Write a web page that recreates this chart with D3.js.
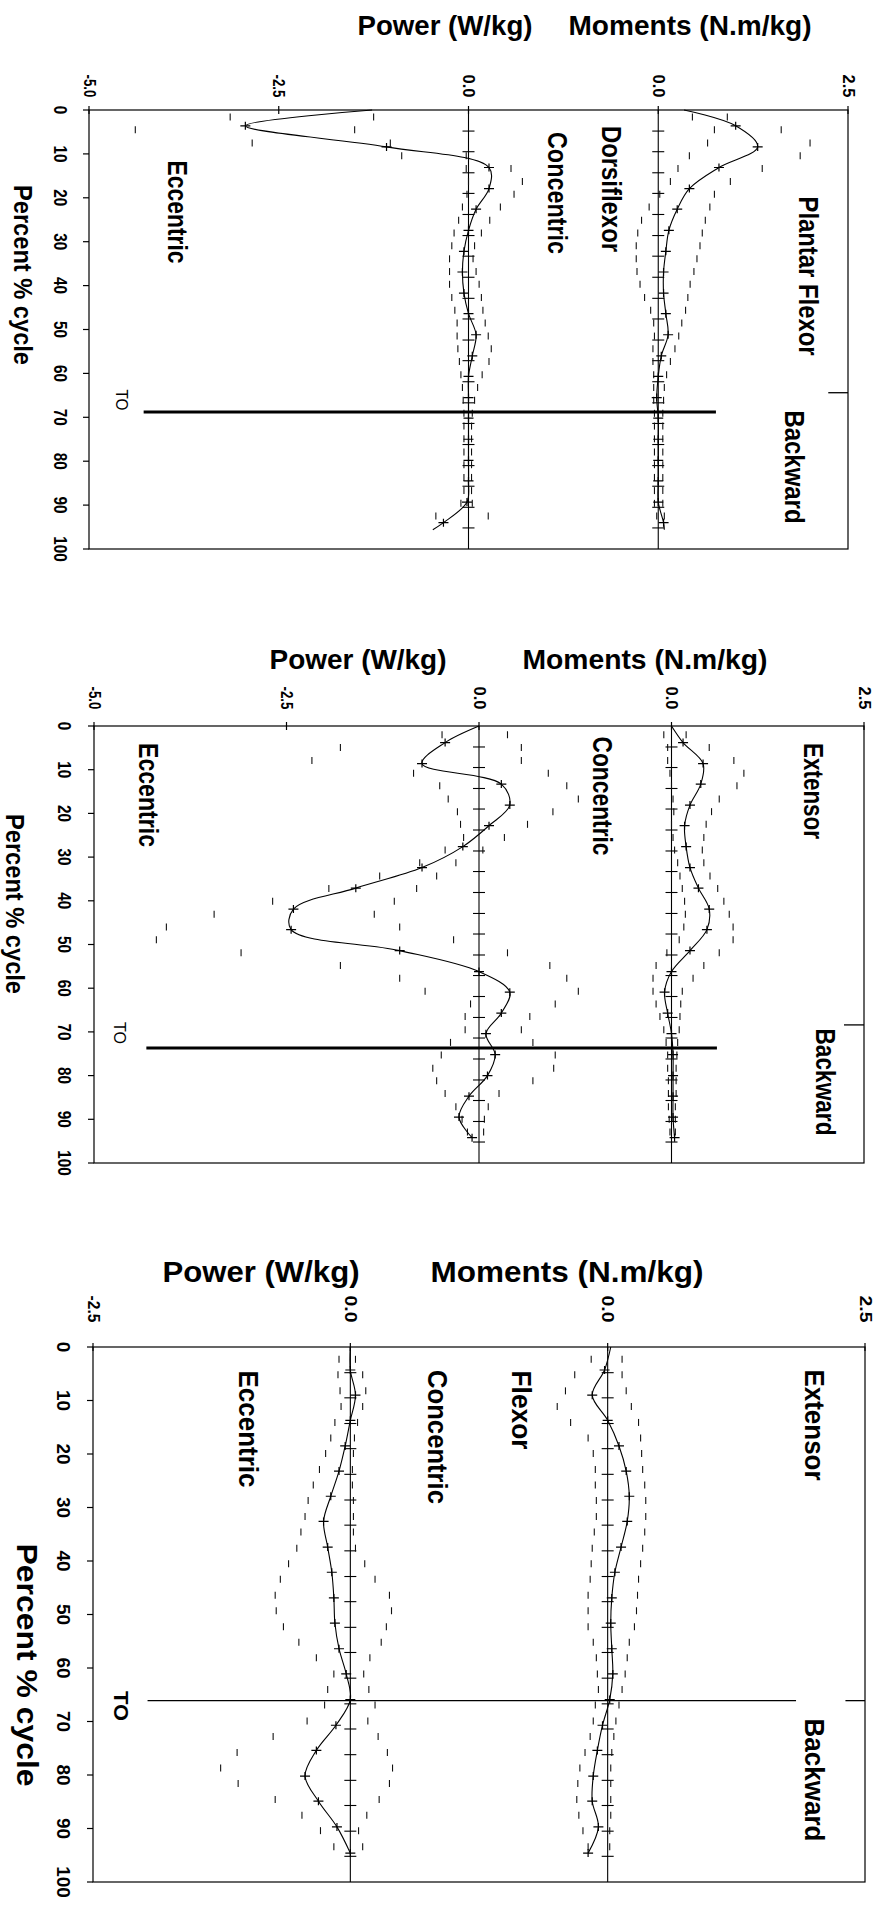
<!DOCTYPE html>
<html>
<head>
<meta charset="utf-8">
<script src="https://cdn.jsdelivr.net/npm/d3@7"></script>
<style>
  html, body { margin: 0; padding: 0; background: #fff; }
  svg { display: block; font-family: "Liberation Sans", Arial, Helvetica, sans-serif; }
</style>
</head>
<body>
<svg id="chart" width="883" height="1906"></svg>
<script>
// ---------------------------------------------------------------
// Joint moments and powers over the backward gait cycle
// (ankle, knee, hip). Mean curves with +/- 1 SD markers.
// ---------------------------------------------------------------

// Percent-of-cycle axis
const pctTicks = [0, 10, 20, 30, 40, 50, 60, 70, 80, 90, 100];
const pctTickLabels = ["0", "10", "20", "30", "40", "50", "60", "70", "80", "90", "100"];
const zeroTickPct = [4.8, 9.5, 14.3, 19.0, 23.8, 28.6, 33.3, 38.1, 42.9, 47.6, 52.4, 57.1, 61.9, 66.7, 71.4, 76.2, 81.0, 85.7, 90.5, 95.2];

// Value axis ticks
const ankleKneePowerTicks = [-5, -2.5, 0];
const ankleKneePowerTickLabels = ["-5.0", "-2.5", "0.0"];
const hipPowerTicks = [-2.5, 0];
const hipPowerTickLabels = ["-2.5", "0.0"];
const momentTicks = [0, 2.5];
const momentTickLabels = ["0.0", "2.5"];

// ---------------- Ankle ----------------
const anklePct = [0, 3.6, 8.4, 13.1, 17.9, 22.6, 27.4, 32.2, 36.9, 41.7, 46.4, 51.2, 56.0, 60.7, 65.5, 70.2, 75.0, 79.8, 84.5, 89.3, 94.0, 95.6];
const ankleMoment = [0.34, 1.02, 1.31, 0.80, 0.41, 0.25, 0.14, 0.10, 0.07, 0.07, 0.10, 0.13, 0.04, 0.00, -0.02, 0.00, 0.00, 0.00, 0.00, 0.00, 0.07, 0.08];
const anklePower = [-1.27, -2.94, -1.08, 0.27, 0.27, 0.10, 0.00, -0.06, -0.08, -0.06, 0.00, 0.10, 0.05, 0.00, 0.00, 0.00, 0.00, 0.00, 0.00, -0.02, -0.33, -0.47];

const ankleSdPct = [1.6, 4.5, 7.5, 10.4, 13.3, 16.3, 19.2, 22.1, 25.1, 28.0, 30.9, 33.9, 36.8, 39.7, 42.7, 45.6, 48.5, 51.5, 54.4, 57.3, 60.3, 63.2, 66.1, 69.1, 72.0, 74.9, 77.9, 80.8, 83.7, 86.7, 89.6, 92.5];
const ankleMomentHi = [0.91, 1.62, 2.00, 1.87, 1.37, 0.95, 0.74, 0.68, 0.62, 0.58, 0.55, 0.51, 0.47, 0.42, 0.39, 0.36, 0.31, 0.27, 0.22, 0.16, 0.11, 0.08, 0.07, 0.06, 0.06, 0.06, 0.06, 0.06, 0.06, 0.06, 0.06, 0.08];
const ankleMomentLo = [0.45, 0.74, 0.65, 0.41, 0.26, 0.16, 0.02, -0.12, -0.22, -0.27, -0.29, -0.29, -0.28, -0.24, -0.18, -0.10, -0.06, -0.05, -0.07, -0.07, -0.06, -0.06, -0.06, -0.05, -0.05, -0.05, -0.05, -0.05, -0.05, -0.05, -0.05, -0.02];
const anklePowerHi = [-1.25, -1.50, -1.03, -0.03, 0.56, 0.71, 0.60, 0.42, 0.28, 0.17, 0.08, 0.06, 0.10, 0.14, 0.17, 0.19, 0.22, 0.26, 0.30, 0.27, 0.18, 0.12, 0.08, 0.05, 0.04, 0.04, 0.04, 0.04, 0.04, 0.04, 0.05, 0.26];
const anklePowerLo = [-3.14, -4.39, -2.85, -0.88, -0.03, 0.00, -0.02, -0.08, -0.13, -0.19, -0.22, -0.25, -0.25, -0.25, -0.22, -0.18, -0.15, -0.15, -0.14, -0.12, -0.10, -0.08, -0.07, -0.06, -0.06, -0.06, -0.06, -0.06, -0.06, -0.06, -0.10, -0.43];

// ---------------- Knee ----------------
const kneePct = [0, 3.8, 8.6, 13.3, 18.1, 22.8, 27.6, 32.4, 37.1, 41.9, 46.6, 51.4, 56.2, 60.9, 65.7, 70.4, 75.2, 80.0, 84.7, 89.5, 94.2];
const kneeMoment = [0.00, 0.15, 0.41, 0.38, 0.24, 0.17, 0.19, 0.24, 0.35, 0.49, 0.46, 0.24, 0.00, -0.09, -0.05, 0.00, 0.02, 0.02, 0.02, 0.02, 0.04];
const kneePower = [0.00, -0.44, -0.74, 0.29, 0.40, 0.13, -0.21, -0.74, -1.60, -2.41, -2.44, -1.03, 0.00, 0.40, 0.29, 0.09, 0.21, 0.11, -0.13, -0.26, -0.09];

const kneeSdPct = [2.0, 4.9, 7.9, 10.8, 13.7, 16.7, 19.6, 22.5, 25.5, 28.4, 31.3, 34.3, 37.2, 40.1, 43.1, 46.0, 48.9, 51.9, 54.8, 57.7, 60.7, 63.6, 66.5, 69.5, 72.4, 75.3, 78.3, 81.2, 84.1, 87.1, 90.0, 92.9];
const kneeMomentHi = [0.19, 0.49, 0.81, 0.94, 0.85, 0.62, 0.52, 0.45, 0.42, 0.40, 0.42, 0.50, 0.60, 0.68, 0.75, 0.80, 0.80, 0.62, 0.42, 0.28, 0.14, 0.12, 0.11, 0.10, 0.08, 0.07, 0.06, 0.06, 0.06, 0.05, 0.05, 0.05];
const kneeMomentLo = [-0.10, -0.05, -0.05, -0.02, 0.00, 0.02, 0.03, 0.00, 0.02, 0.04, 0.08, 0.11, 0.14, 0.17, 0.18, 0.16, 0.10, -0.06, -0.20, -0.24, -0.24, -0.20, -0.15, -0.10, -0.07, -0.05, -0.05, -0.04, -0.04, -0.04, -0.03, -0.02];
const kneePowerHi = [0.37, 0.55, 0.55, 0.90, 1.14, 1.29, 0.96, 0.63, 0.33, 0.05, -0.30, -0.55, -0.81, -1.10, -1.36, -1.03, -0.33, 0.37, 0.92, 1.14, 1.29, 0.99, 0.66, 0.55, 0.70, 0.99, 0.97, 0.70, 0.26, 0.12, 0.07, 0.06];
const kneePowerLo = [-0.48, -1.80, -2.17, -0.85, -0.51, -0.40, -0.28, -0.24, -0.20, -0.44, -0.77, -1.29, -1.95, -2.68, -3.44, -4.06, -4.19, -3.09, -1.80, -1.03, -0.70, -0.11, -0.18, -0.18, -0.37, -0.49, -0.60, -0.55, -0.44, -0.30, -0.22, -0.15];

// ---------------- Hip ----------------
const hipPct = [0, 4.3, 9.0, 13.7, 18.5, 23.2, 27.9, 32.6, 37.4, 42.1, 46.9, 51.6, 56.4, 61.1, 65.9, 70.7, 75.4, 80.2, 84.9, 89.7, 94.6];
const hipMoment = [0.03, -0.03, -0.15, 0.00, 0.11, 0.18, 0.21, 0.19, 0.13, 0.07, 0.04, 0.03, 0.04, 0.05, 0.02, -0.05, -0.10, -0.14, -0.15, -0.09, -0.19];
const hipPower = [0.00, 0.00, 0.05, 0.00, -0.05, -0.11, -0.19, -0.26, -0.22, -0.18, -0.16, -0.15, -0.11, -0.04, 0.00, -0.14, -0.33, -0.44, -0.31, -0.13, 0.00];

const hipSdPct = [2.3, 5.2, 8.2, 11.1, 14.1, 17.0, 19.9, 22.9, 25.8, 28.7, 31.7, 34.6, 37.6, 40.5, 43.4, 46.4, 49.3, 52.3, 55.2, 58.1, 61.1, 64.0, 66.9, 69.9, 72.8, 75.8, 78.7, 81.6, 84.6, 87.5, 90.4, 93.4];
const hipMomentHi = [0.14, 0.14, 0.18, 0.23, 0.30, 0.32, 0.33, 0.34, 0.36, 0.37, 0.37, 0.36, 0.34, 0.32, 0.30, 0.29, 0.28, 0.26, 0.21, 0.19, 0.17, 0.14, 0.11, 0.08, 0.06, 0.04, 0.03, 0.03, 0.03, 0.03, 0.02, 0.02];
const hipMomentLo = [-0.16, -0.32, -0.41, -0.49, -0.36, -0.19, -0.14, -0.12, -0.12, -0.11, -0.11, -0.13, -0.15, -0.16, -0.17, -0.19, -0.19, -0.19, -0.14, -0.11, -0.10, -0.09, -0.12, -0.14, -0.17, -0.22, -0.27, -0.29, -0.30, -0.28, -0.24, -0.19];
const hipPowerHi = [0.05, 0.12, 0.15, 0.12, 0.07, 0.04, 0.03, 0.02, 0.02, 0.03, 0.03, 0.03, 0.05, 0.14, 0.24, 0.38, 0.40, 0.35, 0.30, 0.19, 0.13, 0.18, 0.24, 0.17, 0.27, 0.36, 0.41, 0.38, 0.28, 0.16, 0.08, 0.12];
const hipPowerLo = [-0.11, -0.12, -0.10, -0.09, -0.15, -0.19, -0.24, -0.30, -0.36, -0.41, -0.44, -0.48, -0.52, -0.60, -0.68, -0.73, -0.72, -0.65, -0.50, -0.33, -0.16, -0.22, -0.25, -0.42, -0.75, -1.10, -1.26, -1.09, -0.73, -0.47, -0.29, -0.16];

// Toe-off (percent of cycle)
const toeOffPct = [68.8, 73.7, 66.1];

// Text
const powerTitle = "Power (W/kg)";
const momentTitle = "Moments (N.m/kg)";
const pctTitle = "Percent % cycle";

// ---------------------------------------------------------------
const svg = d3.select("#chart");

// Vertical (rotated) text centred on (x, y)
function vText(g, x, y, str, o) {
  const t = g.append("text")
    .attr("transform", `translate(${x},${y}) rotate(90)` + (o.sx ? ` scale(${o.sx},1)` : ""))
    .attr("text-anchor", "middle")
    .attr("dominant-baseline", "central")
    .attr("font-size", o.size)
    .attr("font-weight", o.weight || "bold")
    .attr("fill", "#000")
    .text(str);
  if (o.len) t.attr("textLength", o.len).attr("lengthAdjust", "spacingAndGlyphs");
  return t;
}

function hText(g, x, y, str, o) {
  const t = g.append("text")
    .attr("x", x).attr("y", y)
    .attr("text-anchor", "middle")
    .attr("dominant-baseline", "central")
    .attr("font-size", o.size)
    .attr("font-weight", "bold")
    .text(str);
  if (o.len) t.attr("textLength", o.len).attr("lengthAdjust", "spacingAndGlyphs");
  return t;
}

function drawPanel(c) {
  const g = svg.append("g");
  const y = d3.scaleLinear().domain([0, 100]).range([c.y0, c.y1]);
  const xp = d3.scaleLinear().domain(c.powerDomain).range([c.x0, c.x1]);
  const xm = d3.scaleLinear().domain(c.momentDomain).range([c.x0, c.x1]);

  // frame
  g.append("rect").attr("x", c.x0).attr("y", c.y0)
    .attr("width", c.x1 - c.x0).attr("height", c.y1 - c.y0)
    .attr("fill", "none").attr("stroke", "#000").attr("stroke-width", 1.2);

  // percent ticks (left, outward) and labels
  g.selectAll(null).data(pctTicks).join("line")
    .attr("x1", c.x0 - 6).attr("x2", c.x0)
    .attr("y1", d => y(d)).attr("y2", d => y(d))
    .attr("stroke", "#000").attr("stroke-width", 1.2);
  pctTicks.forEach((d, i) => vText(g, c.pctLabelX, y(d), pctTickLabels[i], { size: c.pctFont, sx: c.pctScale }));

  // value ticks on the top edge and their labels
  const topTicks = c.powerTicks.map(v => xp(v)).concat(momentTicks.map(v => xm(v)));
  const topLabels = c.powerTickLabels.concat(momentTickLabels);
  g.selectAll(null).data(topTicks).join("line")
    .attr("x1", d => d).attr("x2", d => d)
    .attr("y1", c.y0 - 4).attr("y2", c.y0 + 4)
    .attr("stroke", "#000").attr("stroke-width", 1.2);
  topTicks.forEach((x, i) => vText(g, x, c.valLabelY, topLabels[i], { size: c.valFont, len: c.valLen }));

  // zero lines with their tick marks
  [xp(0), xm(0)].forEach(zx => {
    g.append("line").attr("x1", zx).attr("x2", zx).attr("y1", c.y0).attr("y2", c.y1)
      .attr("stroke", "#000").attr("stroke-width", 1.1);
    g.selectAll(null).data(zeroTickPct).join("line")
      .attr("x1", zx - 6).attr("x2", zx + 6)
      .attr("y1", d => y(d)).attr("y2", d => y(d))
      .attr("stroke", "#000").attr("stroke-width", 1.1);
  });

  // SD markers: short dashes along the cycle
  const sdSets = [
    [c.sdPct, c.momentHi, xm], [c.sdPct, c.momentLo, xm],
    [c.sdPct, c.powerHi, xp], [c.sdPct, c.powerLo, xp]
  ];
  sdSets.forEach(([pct, vals, sx]) => {
    g.selectAll(null).data(vals).join("line")
      .attr("x1", d => sx(d)).attr("x2", d => sx(d))
      .attr("y1", (d, i) => y(pct[i]) - 3.5).attr("y2", (d, i) => y(pct[i]) + 3.5)
      .attr("stroke", "#111").attr("stroke-width", 1.1);
  });

  // mean curves with + markers
  const curves = [[c.moment, xm], [c.power, xp]];
  curves.forEach(([vals, sx]) => {
    const pts = vals.map((v, i) => [sx(v), y(c.pct[i])]);
    g.append("path")
      .attr("d", d3.line().curve(d3.curveCatmullRom)(pts))
      .attr("fill", "none").attr("stroke", "#000").attr("stroke-width", 1.1);
    g.selectAll(null).data(pts.filter((p, i) => c.pct[i] > 0 && c.pct[i] < 95.3)).join("path")
      .attr("transform", d => `translate(${d[0]},${d[1]})`)
      .attr("d", "M-5,0H5M0,-4V4")
      .attr("stroke", "#000").attr("stroke-width", 1.2).attr("fill", "none");
  });

  // toe-off line and the end-of-stance mark on the right edge
  const ty = y(c.toPct);
  g.append("line").attr("x1", xp(c.toFrom)).attr("x2", xm(c.toTo))
    .attr("y1", ty).attr("y2", ty)
    .attr("stroke", "#000").attr("stroke-width", c.toWidth);
  const ry = y(c.markPct);
  g.append("line").attr("x1", xm(c.markFrom)).attr("x2", c.x1)
    .attr("y1", ry).attr("y2", ry)
    .attr("stroke", "#000").attr("stroke-width", 1.3);

  // titles
  hText(g, c.powerTitleX, c.titleY, powerTitle, { size: c.titleFont, len: c.powerTitleLen });
  hText(g, c.momentTitleX, c.titleY, momentTitle, { size: c.titleFont, len: c.momentTitleLen });
  vText(g, c.pctTitle[0], c.pctTitle[1], pctTitle, { size: c.pctTitle[3], len: c.pctTitle[2] });

  // region labels
  c.labels.forEach(l => vText(g, l[1], l[2], l[0], { size: c.labelFont, len: l[3] }));
  vText(g, c.toLabel[0], c.toLabel[1], "TO", { size: c.toLabel[3], len: c.toLabel[2], weight: c.toLabel[4] });
}

drawPanel({
  x0: 89, x1: 848, y0: 110, y1: 549,
  powerDomain: [-5, 5], momentDomain: [-7.5, 2.5],
  powerTicks: ankleKneePowerTicks, powerTickLabels: ankleKneePowerTickLabels,
  valLabelY: 86, valFont: 17, valLen: 23,
  pctLabelX: 60, pctFont: 18, pctScale: 0.85,
  pct: anklePct, moment: ankleMoment, power: anklePower,
  sdPct: ankleSdPct, momentHi: ankleMomentHi, momentLo: ankleMomentLo, powerHi: anklePowerHi, powerLo: anklePowerLo,
  toPct: toeOffPct[0], toFrom: -4.28, toTo: 0.76, toWidth: 3,
  markPct: 64.4, markFrom: 2.24,
  titleY: 25, titleFont: 28, powerTitleX: 445, powerTitleLen: 175, momentTitleX: 690, momentTitleLen: 243,
  pctTitle: [23, 275, 180, 26],
  labelFont: 27,
  labels: [["Plantar Flexor", 808, 276, 159], ["Backward", 794, 467, 113], ["Dorsiflexor", 611, 189, 126],
           ["Concentric", 557, 193, 122], ["Eccentric", 177, 212, 103]],
  toLabel: [121, 400, 21, 16, "normal"]
});

drawPanel({
  x0: 94, x1: 864, y0: 726, y1: 1163,
  powerDomain: [-5, 5], momentDomain: [-7.5, 2.5],
  powerTicks: ankleKneePowerTicks, powerTickLabels: ankleKneePowerTickLabels,
  valLabelY: 698, valFont: 17, valLen: 23,
  pctLabelX: 64, pctFont: 18, pctScale: 0.85,
  pct: kneePct, moment: kneeMoment, power: kneePower,
  sdPct: kneeSdPct, momentHi: kneeMomentHi, momentLo: kneeMomentLo, powerHi: kneePowerHi, powerLo: kneePowerLo,
  toPct: toeOffPct[1], toFrom: -4.32, toTo: 0.59, toWidth: 3,
  markPct: 68.4, markFrom: 2.24,
  titleY: 659, titleFont: 28, powerTitleX: 358, powerTitleLen: 177, momentTitleX: 645, momentTitleLen: 245,
  pctTitle: [15, 904, 180, 25],
  labelFont: 27,
  labels: [["Extensor", 813, 791, 96], ["Backward", 825, 1082, 107],
           ["Concentric", 602, 796, 119], ["Eccentric", 148, 795, 104]],
  toLabel: [119, 1033, 22, 16, "normal"]
});

drawPanel({
  x0: 93, x1: 865, y0: 1347, y1: 1882,
  powerDomain: [-2.5, 5.0], momentDomain: [-5.0, 2.5],
  powerTicks: hipPowerTicks, powerTickLabels: hipPowerTickLabels,
  valLabelY: 1309, valFont: 16, valLen: 27,
  pctLabelX: 63, pctFont: 19, pctScale: null,
  pct: hipPct, moment: hipMoment, power: hipPower,
  sdPct: hipSdPct, momentHi: hipMomentHi, momentLo: hipMomentLo, powerHi: hipPowerHi, powerLo: hipPowerLo,
  toPct: toeOffPct[2], toFrom: -1.97, toTo: 1.83, toWidth: 1.3,
  markPct: 66.1, markFrom: 2.31,
  titleY: 1271, titleFont: 30, powerTitleX: 261, powerTitleLen: 197, momentTitleX: 567, momentTitleLen: 273,
  pctTitle: [27, 1665, 243, 30],
  labelFont: 27,
  labels: [["Extensor", 814, 1425, 111], ["Backward", 814, 1780, 123], ["Flexor", 521, 1410, 79],
           ["Concentric", 437, 1437, 134], ["Eccentric", 248, 1429, 117]],
  toLabel: [121, 1706, 30, 21, "bold"]
});
</script>
</body>
</html>
